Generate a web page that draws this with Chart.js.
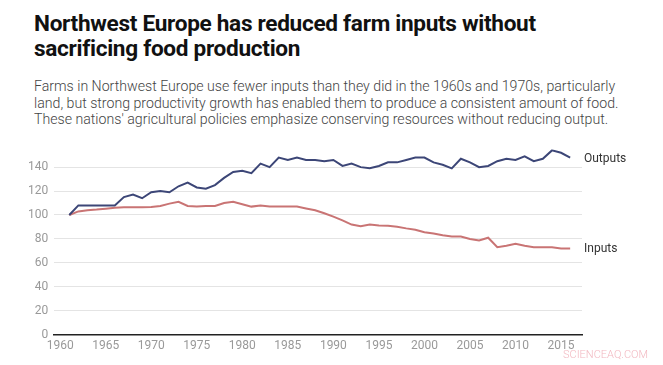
<!DOCTYPE html>
<html>
<head>
<meta charset="utf-8">
<script src="https://cdn.jsdelivr.net/npm/chart.js@4"></script>
<style>
  body { margin: 0; background: #fff; font-family: Roboto, sans-serif; }
  #wrap { position: relative; width: 663px; height: 365px; overflow: hidden; }
  h1 { position: absolute; left: 34px; top: 11px; margin: 0; white-space: nowrap;
       font: 700 22.6px/25px Roboto, sans-serif; color: #111; letter-spacing: -0.3px; }
  p { position: absolute; left: 34px; top: 78px; margin: 0; white-space: nowrap;
      font: 300 14.15px/16.5px Roboto, sans-serif; color: #444; }
  #chartBox { position: absolute; left: 0; top: 136px; width: 663px; height: 229px; }
  #mark { position: absolute; left: 563px; top: 348px; font: 300 11px Roboto, sans-serif; color: #f2b8c0; }
</style>
</head>
<body>
<div id="wrap">
  <h1>Northwest Europe has reduced farm inputs without<br>sacrificing food production</h1>
  <p>Farms in Northwest Europe use fewer inputs than they did in the 1960s and 1970s, particularly<br>land, but strong productivity growth has enabled them to produce a consistent amount of food.<br>These nations' agricultural policies emphasize conserving resources without reducing output.</p>
  <div id="chartBox"><canvas id="farmChart"></canvas></div>
  <div id="mark">SCIENCEAQ.COM</div>
</div>
<script>
const years = [];
for (let y = 1961; y <= 2016; y++) years.push(y);

const outputs = [
  100, 108, 108, 108, 108, 108, 115, 117, 114, 119,
  120, 119, 124, 127, 123, 122, 125, 131, 136, 137,
  135, 143, 140, 148, 146, 148, 146, 146, 145, 146,
  141, 143, 140, 139, 141, 144, 144, 146, 148, 148,
  144, 142, 139, 147, 144, 140, 141, 145, 147, 146,
  149, 145, 147, 154, 152, 148
];

const inputs = [
  100, 103, 104, 104.5, 105.3, 106, 106.5, 106.5, 106.5, 106.7,
  107.5, 109.5, 111, 107.5, 107, 107.5, 107.5, 110, 111, 109,
  107, 108, 107, 107, 107, 107, 105.5, 104, 101.4, 98.6,
  95.5, 92, 90.5, 92, 91.3, 91, 90.2, 88.8, 87.7, 85.5,
  84.6, 83, 82, 82, 80, 78.7, 81, 73, 74.2, 76,
  74.2, 73, 73, 73, 72, 72
];

const xTicks = [1960, 1965, 1970, 1975, 1980, 1985, 1990, 1995, 2000, 2005, 2010, 2015];
const yTicks = [0, 20, 40, 60, 80, 100, 120, 140];
const seriesNames = ["Outputs", "Inputs"];

// draws the series name right of the last point
const endLabels = {
  id: "endLabels",
  afterDatasetsDraw(chart) {
    const ctx = chart.ctx;
    ctx.save();
    ctx.font = "400 12px Roboto, sans-serif";
    ctx.fillStyle = "#333";
    ctx.textBaseline = "middle";
    ctx.textAlign = "left";
    chart.data.datasets.forEach((ds, i) => {
      const pts = chart.getDatasetMeta(i).data;
      const last = pts[pts.length - 1];
      ctx.fillText(ds.label, chart.chartArea.right + 2, last.y + 1);
    });
    ctx.restore();
  }
};

const ctx = document.getElementById("farmChart");

new Chart(ctx, {
  type: "line",
  data: {
    datasets: [{
      label: seriesNames[0],
      data: years.map((y, i) => ({ x: y, y: outputs[i] })),
      borderColor: "#3c4677",
      borderWidth: 2,
      pointRadius: 0,
      tension: 0
    }, {
      label: seriesNames[1],
      data: years.map((y, i) => ({ x: y, y: inputs[i] })),
      borderColor: "#c97474",
      borderWidth: 2,
      pointRadius: 0,
      tension: 0
    }]
  },
  options: {
    responsive: true,
    maintainAspectRatio: false,
    animation: false,
    layout: { padding: { top: 0, right: 81, bottom: 8, left: 22 } },
    plugins: { legend: { display: false }, tooltip: { enabled: false } },
    scales: {
      x: {
        type: "linear",
        min: 1959.35,
        max: 2017.3,
        afterBuildTicks: axis => { axis.ticks = xTicks.map(v => ({ value: v })); },
        grid: { display: false, drawTicks: false },
        border: { display: true, color: "#222", width: 1.5 },
        ticks: {
          color: "#999",
          font: { family: "Roboto", size: 12 },
          padding: 4,
          maxRotation: 0,
          autoSkip: false,
          callback: v => String(v)
        }
      },
      y: {
        min: 0,
        max: 155,
        afterBuildTicks: axis => { axis.ticks = yTicks.map(v => ({ value: v })); },
        grid: { color: "#e4e4e4", drawTicks: false },
        border: { display: false },
        ticks: {
          color: "#999",
          font: { family: "Roboto", size: 12 },
          padding: 6
        }
      }
    }
  },
  plugins: [endLabels]
});
</script>
</body>
</html>
